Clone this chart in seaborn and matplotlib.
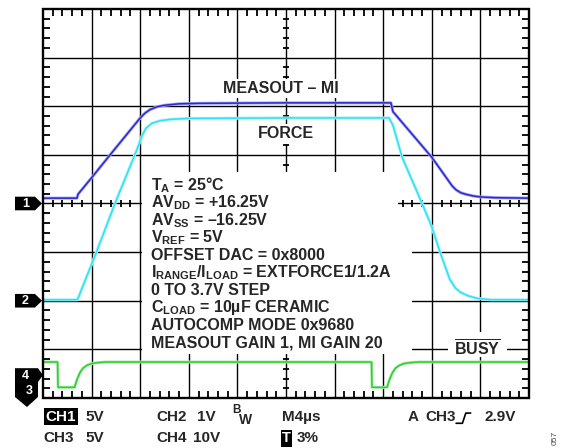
import matplotlib
matplotlib.use("Agg")
import matplotlib.pyplot as plt
from matplotlib.patches import Polygon, Rectangle
import pandas as pd
import seaborn as sns

# scope screen is 10 x 8 divisions; values below are in divisions
# (time: 4 us/div, 0 = left edge; volts: 0 = screen centre)

# CH1 - MEASOUT - MI (blue)
measout_t = [0.0, 0.70, 0.72, 1.0, 1.38, 2.0, 2.1, 2.2, 2.35, 2.5, 2.8, 3.2, 5.0,
             7.16, 7.2, 8.0, 8.42, 8.5, 8.6, 8.7, 8.85, 9.0, 9.3, 10.0]
measout_v = [0.11, 0.11, 0.19, 0.53, 1.0, 1.76, 1.86, 1.93, 1.99, 2.02, 2.05, 2.06, 2.07,
             2.07, 1.89, 0.95, 0.36, 0.28, 0.22, 0.19, 0.155, 0.135, 0.12, 0.11]

# CH2 - FORCE (cyan)
force_t = [0.0, 0.70, 0.72, 1.1, 1.48, 1.93, 2.04, 2.12, 2.24, 2.4, 2.61, 3.0, 5.0,
           7.12, 7.2, 7.39, 7.8, 8.0, 8.17, 8.37, 8.48, 8.58, 8.75, 8.93, 9.2, 10.0]
force_v = [-1.98, -1.98, -1.95, -1.0, 0.0, 1.1, 1.40, 1.55, 1.65, 1.70, 1.73, 1.75, 1.76,
           1.76, 1.61, 0.95, 0.0, -0.48, -1.0, -1.56, -1.73, -1.82, -1.90, -1.95, -1.98, -1.98]

# CH3 - BUSY (green)
busy_t = [0.0, 0.30, 0.31, 0.65, 0.70, 0.76, 0.82, 0.90, 1.0, 1.15, 1.3,
          6.76, 6.77, 7.08, 7.13, 7.19, 7.25, 7.33, 7.43, 7.58, 7.75, 10.0]
busy_v = [-3.26, -3.26, -3.78, -3.78, -3.62, -3.48, -3.39, -3.33, -3.29, -3.27, -3.26,
          -3.26, -3.78, -3.78, -3.62, -3.48, -3.39, -3.33, -3.29, -3.27, -3.26, -3.26]

note_lines = [
    "T$_{A}$ = 25°C",
    "AV$_{DD}$ = +16.25V",
    "AV$_{SS}$ = –16.25V",
    "V$_{REF}$ = 5V",
    "OFFSET DAC = 0x8000",
    "I$_{RANGE}$/I$_{LOAD}$ = EXTFORCE1/1.2A",
    "0 TO 3.7V STEP",
    "C$_{LOAD}$ = 10µF CERAMIC",
    "AUTOCOMP MODE 0x9680",
    "MEASOUT GAIN 1, MI GAIN 20",
]

sns.set_style("white")
plt.rcParams["font.family"] = ["Liberation Sans", "DejaVu Sans"]
plt.rcParams["font.weight"] = "bold"
plt.rcParams["mathtext.fontset"] = "custom"
plt.rcParams["mathtext.rm"] = "Liberation Sans:bold"
plt.rcParams["mathtext.it"] = "Liberation Sans:bold"
plt.rcParams["mathtext.bf"] = "Liberation Sans:bold"
plt.rcParams["mathtext.default"] = "rm"

fig = plt.figure(figsize=(5.67, 4.48), dpi=100)
ax = fig.add_axes([43 / 567, 1 - 398 / 448, 486 / 567, 389 / 448])

traces = [
    (measout_t, measout_v, "#2a2ad2", "#a4a4f2"),
    (force_t, force_v, "#2fe3f3", "#aaf3f8"),
    (busy_t, busy_v, "#33cc33", "#aaeeaa"),
]
for t, v, col, glow in traces:
    df = pd.DataFrame({"t": t, "v": v})
    sns.lineplot(data=df, x="t", y="v", sort=False, estimator=None, color=glow,
                 lw=2.2, ax=ax, zorder=3)
    sns.lineplot(data=df, x="t", y="v", sort=False, estimator=None, color=col,
                 lw=1.1, ax=ax, zorder=4)

# graticule
for gx in range(1, 10):
    ax.plot([gx, gx], [-4, 4], color="black", lw=1.0, zorder=1)
for gy in range(-3, 4):
    ax.plot([0, 10], [gy, gy], color="black", lw=1.0, zorder=1)

# minor ticks: frame ticks point inwards, centre-line ticks cross the line
minor_x = [i * 0.2 for i in range(1, 50) if i % 5]
minor_y = [-4 + i * 0.2 for i in range(1, 40) if i % 5]
ax.vlines(minor_x, 3.86, 4.0, colors="black", linewidths=1.3, zorder=1.5)
ax.vlines(minor_x, -4.0, -3.86, colors="black", linewidths=1.3, zorder=1.5)
ax.vlines(minor_x, -0.07, 0.07, colors="black", linewidths=1.3, zorder=1.5)
ax.hlines(minor_y, 0.0, 0.14, colors="black", linewidths=1.3, zorder=1.5)
ax.hlines(minor_y, 9.86, 10.0, colors="black", linewidths=1.3, zorder=1.5)
ax.hlines(minor_y, 4.93, 5.07, colors="black", linewidths=1.3, zorder=1.5)

ax.add_patch(Rectangle((0, -4), 10, 8, fill=False, ec="black", lw=1.7, zorder=6, clip_on=False))

# white areas behind the annotation block
ax.add_patch(Rectangle((2.03, -0.5), 5.27, 1.15, fc="white", ec="none", zorder=2))
ax.add_patch(Rectangle((2.03, -3.1), 5.57, 2.6, fc="white", ec="none", zorder=2))
ax.add_patch(Rectangle((8.33, -3.15), 1.22, 0.5, fc="white", ec="none", zorder=2))

ax.set_xlim(0, 10)
ax.set_ylim(-4, 4)
ax.set_xlabel("")
ax.set_ylabel("")
ax.axis("off")

lab_fs = 11.5
ax.text(4.9, 2.36, "MEASOUT – MI", ha="center", va="center", fontsize=lab_fs, zorder=5,
        bbox=dict(fc="white", ec="none", pad=1.5))
ax.text(5.0, 1.43, "FORCE", ha="center", va="center", fontsize=lab_fs, zorder=5,
        bbox=dict(fc="white", ec="none", pad=1.5))
ax.text(8.93, -3.0, r"$\overline{BUSY}$", ha="center", va="center", fontsize=lab_fs, zorder=5)

for i, line in enumerate(note_lines):
    ax.text(2.23, 0.27 - 0.358 * i, line, ha="left", va="baseline", fontsize=lab_fs, zorder=5)

# channel ground markers
def ch_marker(y, label):
    pts = [(-0.576, y + 0.14), (-0.165, y + 0.14), (-0.02, y), (-0.165, y - 0.14), (-0.576, y - 0.14)]
    ax.add_patch(Polygon(pts, closed=True, fc="black", ec="none", clip_on=False, zorder=7))
    ax.text(-0.36, y, label, color="white", ha="center", va="center", fontsize=9,
            clip_on=False, zorder=8)

ch_marker(0.0, "1")
ch_marker(-2.0, "2")
pts43 = [(-0.576, -3.387), (-0.103, -3.387), (0.0, -3.53), (-0.103, -3.67), (-0.103, -3.98),
         (-0.33, -4.185), (-0.576, -3.98)]
ax.add_patch(Polygon(pts43, closed=True, fc="black", ec="none", clip_on=False, zorder=7))
ax.text(-0.37, -3.55, "4", color="white", ha="center", va="center", fontsize=9,
        clip_on=False, zorder=8)
ax.text(-0.29, -3.86, "3", color="white", ha="center", va="center", fontsize=9,
        clip_on=False, zorder=8)

# status bar
r1, r2 = -4.385, -4.83
fs = 11
ax.text(0.05, r1, "CH1", color="white", ha="left", va="center", fontsize=fs, clip_on=False,
        bbox=dict(fc="black", ec="none", pad=1.2))
ax.text(0.88, r1, "5V", ha="left", va="center", fontsize=fs, clip_on=False)
ax.text(2.33, r1, "CH2", ha="left", va="center", fontsize=fs, clip_on=False)
ax.text(3.17, r1, "1V", ha="left", va="center", fontsize=fs, clip_on=False)
ax.text(3.89, r1 + 0.14, "B", ha="left", va="center", fontsize=8.5, clip_on=False)
ax.text(4.04, r1 - 0.06, "W", ha="left", va="center", fontsize=10, clip_on=False)
ax.text(4.92, r1, "M4µs", ha="left", va="center", fontsize=fs, clip_on=False)
ax.text(7.51, r1, "A", ha="left", va="center", fontsize=fs, clip_on=False)
ax.text(7.86, r1, "CH3", ha="left", va="center", fontsize=fs, clip_on=False)
ax.plot([8.50, 8.63, 8.70, 8.80], [-4.52, -4.52, -4.31, -4.31], color="black", lw=1.2,
        clip_on=False)
ax.text(9.09, r1, "2.9V", ha="left", va="center", fontsize=fs, clip_on=False)

ax.text(0.0, r2, "CH3", ha="left", va="center", fontsize=fs, clip_on=False)
ax.text(0.88, r2, "5V", ha="left", va="center", fontsize=fs, clip_on=False)
ax.text(2.33, r2, "CH4", ha="left", va="center", fontsize=fs, clip_on=False)
ax.text(3.09, r2, "10V", ha="left", va="center", fontsize=fs, clip_on=False)
ax.text(4.92, r2, "T", color="white", ha="left", va="center", fontsize=10.5, clip_on=False,
        bbox=dict(fc="black", ec="none", pad=1.0))
ax.text(5.22, r2, "3%", ha="left", va="center", fontsize=fs, clip_on=False)

fig.text(555 / 567, 1 - 438 / 448, "057", rotation=90, ha="center", va="center",
         fontsize=6, fontweight="normal", color="#444444")

fig.savefig("out.png", dpi=100)
